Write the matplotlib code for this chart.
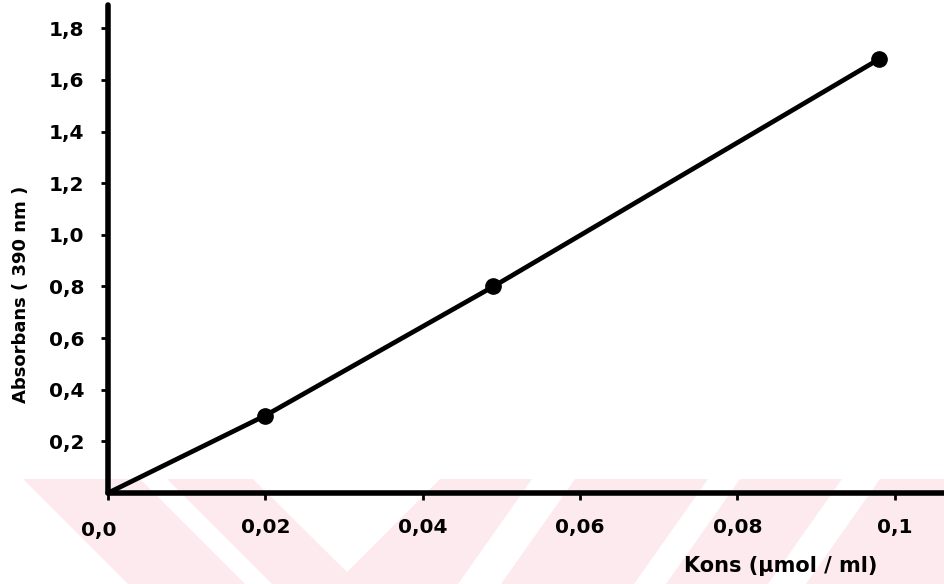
import matplotlib
matplotlib.use("Agg")
from matplotlib import pyplot as plt
from matplotlib.patches import Polygon
from matplotlib.transforms import ScaledTranslation

# standard curve, absorbance at 390 nm
kons = [0.0, 0.02, 0.049, 0.098]
absorbans = [0.0, 0.30, 0.80, 1.68]

x_ticks = [0.0, 0.02, 0.04, 0.06, 0.08, 0.1]
x_tick_labels = ["0,0", "0,02", "0,04", "0,06", "0,08", "0,1"]
y_ticks = [0.2, 0.4, 0.6, 0.8, 1.0, 1.2, 1.4, 1.6, 1.8]
y_tick_labels = ["0,2", "0,4", "0,6", "0,8", "1,0", "1,2", "1,4", "1,6", "1,8"]

W, H = 945, 584
plt.rcParams["font.family"] = ["DejaVu Sans"]
plt.rcParams["font.weight"] = "bold"

fig = plt.figure(figsize=(W / 100, H / 100), dpi=100)
fig.patch.set_facecolor("white")


def px(points):
    return [(x / W, 1 - y / H) for x, y in points]


# pale background band along the bottom edge
pink = "#fdeaee"
fig.patches.append(Polygon(px([(0, 479), (W, 479), (W, H), (0, H)]),
                           closed=True, transform=fig.transFigure,
                           facecolor=pink, edgecolor="none", zorder=-2))
gaps = [
    [(0, 479), (23, 479), (128, 584), (0, 584)],
    [(140, 479), (167, 479), (272, 584), (245, 584)],
    [(253, 479), (440, 479), (347, 572)],
    [(532, 479), (575, 479), (501, 584), (458, 584)],
    [(708, 479), (740, 479), (666, 584), (634, 584)],
    [(842, 479), (880, 479), (806, 584), (768, 584)],
]
for g in gaps:
    fig.patches.append(Polygon(px(g), closed=True, transform=fig.transFigure,
                               facecolor="white", edgecolor="none", zorder=-1))

ax = fig.add_axes([108 / W, 1 - 493 / H, (W - 108) / W, (493 - 5) / H])
ax.set_zorder(2)
ax.set_facecolor("none")
ax.set_xlim(0, 0.1064)
ax.set_ylim(0, 1.89)

ax.plot(kons, absorbans, color="black", lw=3.4, solid_capstyle="round", zorder=3)
ax.plot(kons[1:], absorbans[1:], "o", color="black", ms=11, zorder=4)

for side in ["top", "right"]:
    ax.spines[side].set_visible(False)
for side in ["left", "bottom"]:
    ax.spines[side].set_linewidth(4.0)
    ax.spines[side].set_capstyle("round")

ax.set_xticks(x_ticks)
ax.set_xticklabels(x_tick_labels)
ax.set_yticks(y_ticks)
ax.set_yticklabels(y_tick_labels)
ax.tick_params(axis="x", direction="out", length=5, width=2, pad=13,
               labelsize=14.5)
ax.tick_params(axis="y", direction="out", length=5, width=2, pad=12,
               labelsize=14.5)
for lbl in ax.get_xticklabels() + ax.get_yticklabels():
    lbl.set_fontweight("bold")

# the zero label sits a little left of and below the origin
zero = ax.get_xticklabels()[0]
zero.set_transform(zero.get_transform()
                   + ScaledTranslation(-9 / 100, -3 / 100, fig.dpi_scale_trans))

fig.text(781 / W, 1 - 566 / H, "Kons (μmol / ml)", ha="center", va="center",
         fontsize=15, fontweight="bold", zorder=3)
fig.text(21 / W, 1 - 294 / H, "Absorbans ( 390 nm )", ha="center",
         va="center", rotation=90, fontsize=13, fontweight="bold")

fig.savefig("out.png", dpi=100)
